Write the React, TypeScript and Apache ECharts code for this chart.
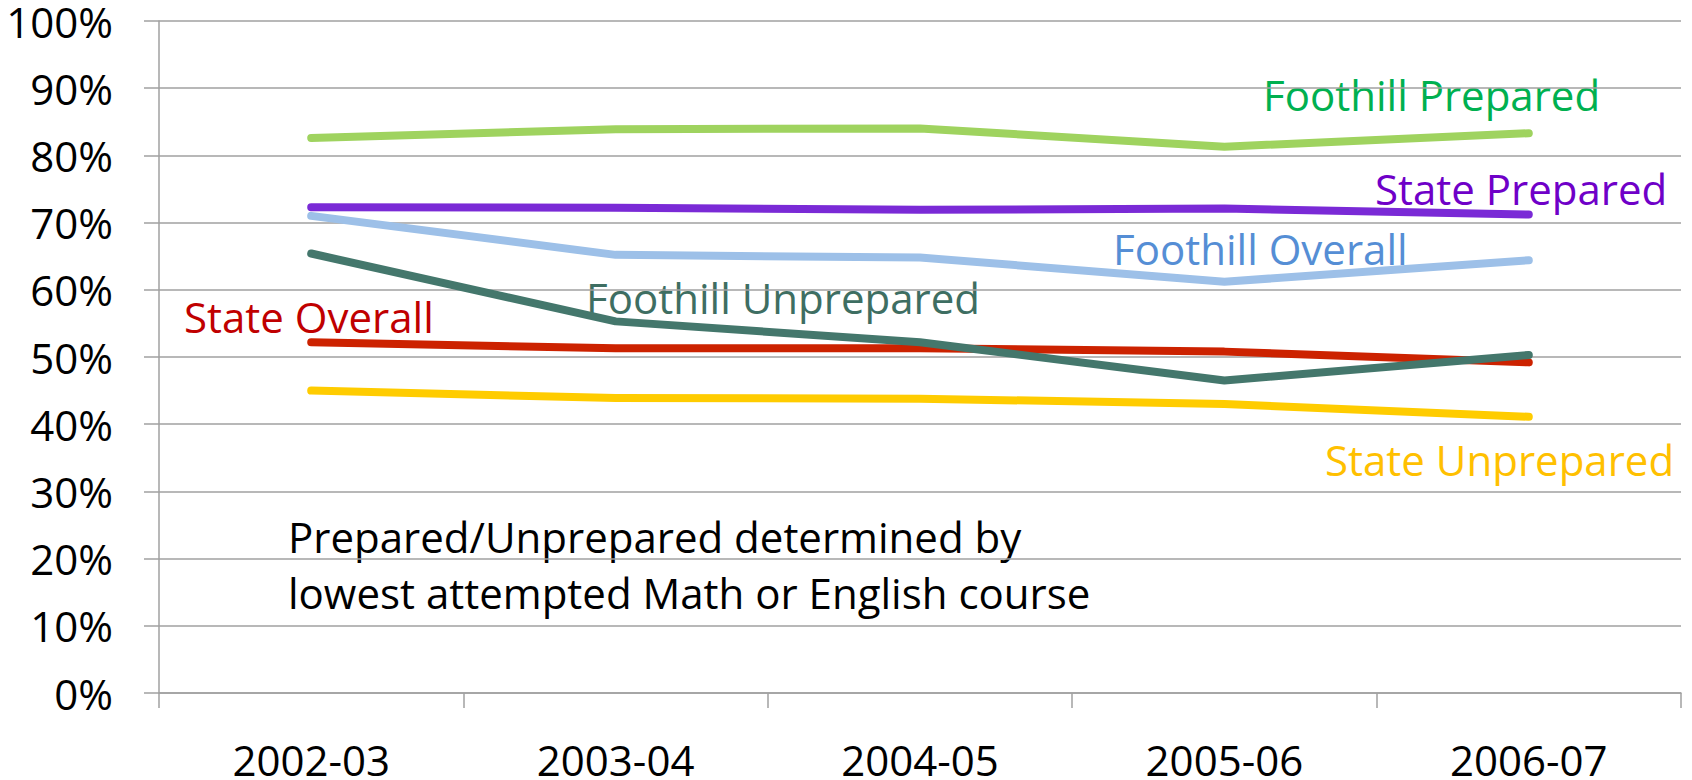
import React, { useEffect, useRef } from "react";
import * as echarts from "echarts";

const categories = ["2002-03", "2003-04", "2004-05", "2005-06", "2006-07"];
const foothillPrepared = [82.6, 83.9, 84.0, 81.3, 83.3];
const statePrepared = [72.3, 72.2, 71.9, 72.1, 71.2];
const foothillOverall = [71.0, 65.2, 64.8, 61.2, 64.4];
const foothillUnprepared = [65.4, 55.3, 52.2, 46.5, 50.3];
const stateOverall = [52.2, 51.3, 51.3, 50.8, 49.2];
const stateUnprepared = [45.0, 43.9, 43.8, 43.0, 41.1];
const yTicks = [0, 10, 20, 30, 40, 50, 60, 70, 80, 90, 100];

const FONT = "'Open Sans', 'Noto Sans', sans-serif";

export default function App() {
  const ref = useRef<HTMLDivElement>(null);
  useEffect(() => {
    const chart = echarts.init(ref.current!, null, { renderer: "svg" });
    const mk = (name: string, data: number[], color: string) => ({
      name,
      type: "line",
      data,
      symbol: "none",
      lineStyle: { color, width: 8, cap: "round", join: "round" },
      itemStyle: { color },
    });
    const label = (text: string, x: number, y: number, color: string) => ({
      type: "text",
      left: x,
      top: y,
      style: { text, fill: color, font: `42px ${FONT}` },
    });
    chart.setOption({
      animation: false,
      backgroundColor: "#ffffff",
      grid: { left: 159, right: 11, top: 21, bottom: 85, containLabel: false },
      xAxis: {
        type: "category",
        data: categories,
        boundaryGap: true,
        axisLine: { show: true, lineStyle: { color: "#a0a0a0", width: 1.5 } },
        axisTick: { show: true, length: 15, lineStyle: { color: "#a0a0a0", width: 1.5 } },
        axisLabel: { color: "#000", fontSize: 42, fontFamily: FONT, margin: 50, lineHeight: 32 },
        splitLine: { show: false },
      },
      yAxis: {
        type: "value",
        min: yTicks[0],
        max: yTicks[yTicks.length - 1],
        interval: 10,
        axisLine: { show: true, lineStyle: { color: "#a0a0a0", width: 1.5 } },
        axisTick: { show: true, length: 15, lineStyle: { color: "#a0a0a0", width: 1.5 } },
        axisLabel: { color: "#000", fontSize: 42, fontFamily: FONT, margin: 46, lineHeight: 38, formatter: "{value}%" },
        splitLine: { show: true, lineStyle: { color: "#a0a0a0", width: 1.5 } },
      },
      series: [
        mk("Foothill Prepared", foothillPrepared, "#9fd35f"),
        mk("State Prepared", statePrepared, "#7a2ad6"),
        mk("Foothill Overall", foothillOverall, "#9dc0e8"),
        mk("State Unprepared", stateUnprepared, "#ffcc00"),
        mk("State Overall", stateOverall, "#cc2200"),
        mk("Foothill Unprepared", foothillUnprepared, "#44776c"),
      ],
      graphic: [
        label("Foothill Prepared", 1263, 73, "#00b050"),
        label("State Prepared", 1375, 167, "#6f00c8"),
        label("Foothill Overall", 1113, 227, "#558ed5"),
        label("Foothill Unprepared", 586, 276, "#3e6e62"),
        label("State Overall", 184, 295, "#c00000"),
        label("State Unprepared", 1325, 438, "#ffc000"),
        {
          type: "text",
          left: 288,
          top: 508,
          style: {
            text: "Prepared/Unprepared determined by\nlowest attempted Math or English course",
            fill: "#000",
            font: `42px ${FONT}`,
            lineHeight: 56,
          },
        },
      ],
    });
    return () => chart.dispose();
  }, []);
  return <div ref={ref} style={{ width: 1692, height: 780, position: "absolute", left: 0, top: 0 }} />;
}
